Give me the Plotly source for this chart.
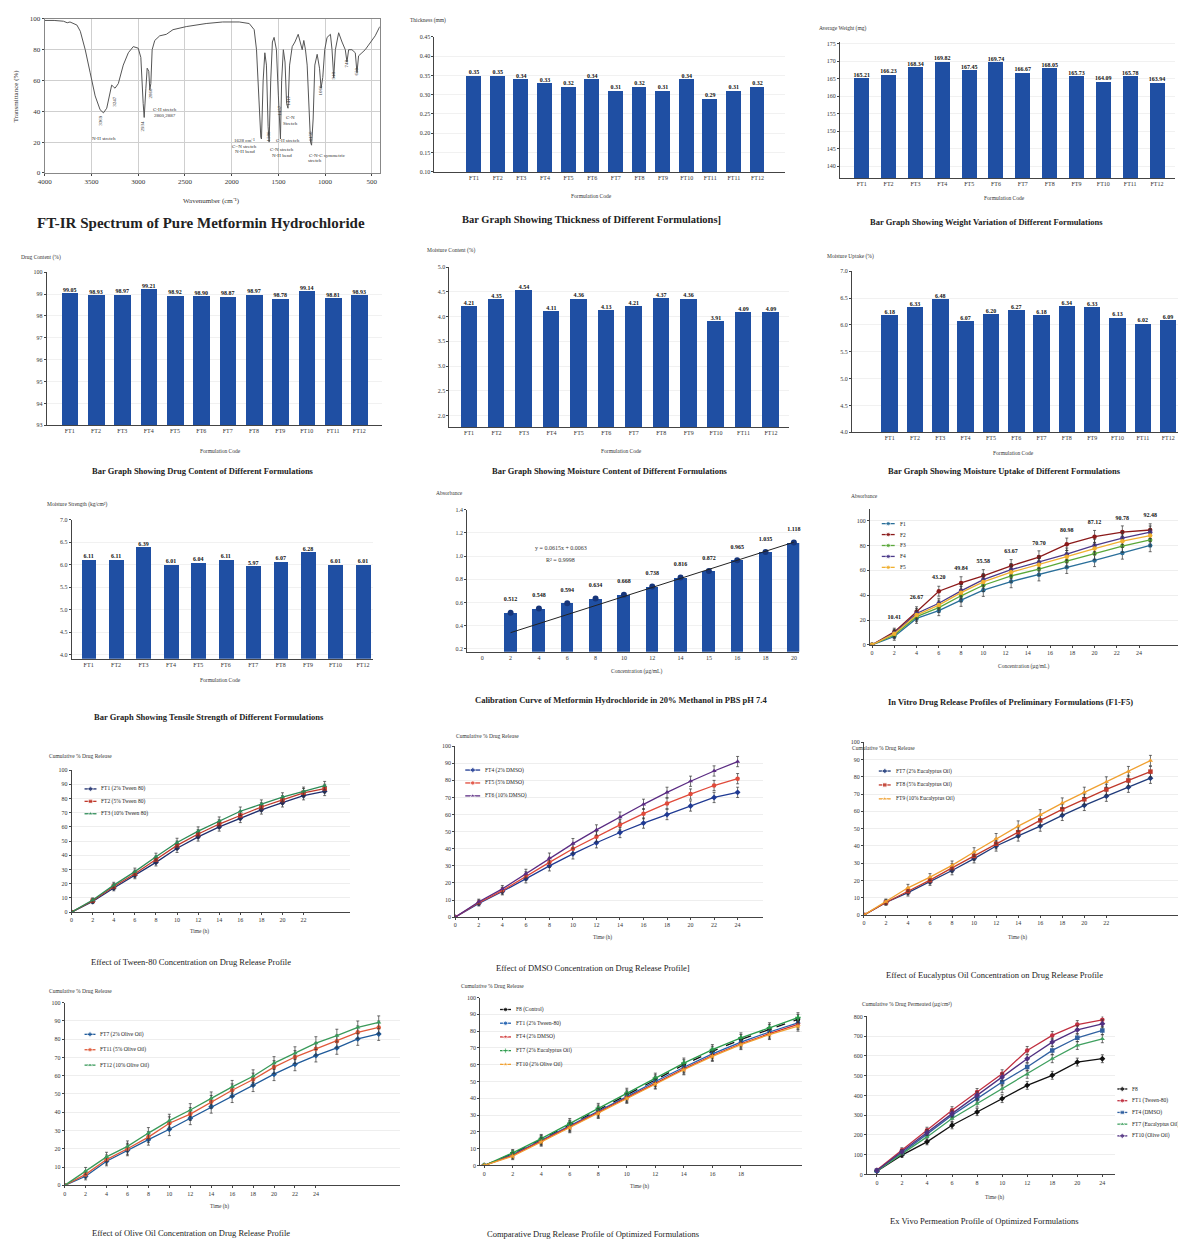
import plotly.graph_objects as go

W, H = 1178, 1245
SERIF = "Liberation Serif"
BAR_BLUE = "#1f4fa3"

# ---------------- data ----------------
ftir_wavenumber = [4000, 3900, 3800, 3760, 3730, 3700, 3656, 3620, 3567, 3514, 3461, 3408, 3372, 3337,
                   3301, 3284, 3266, 3248, 3213, 3160, 3106, 3053, 3000, 2972, 2947, 2936, 2918, 2904,
                   2887, 2876, 2865, 2851, 2823, 2770, 2699, 2628, 2486, 2273, 2096, 1919, 1812, 1759,
                   1734, 1713, 1688, 1681, 1663, 1645, 1628, 1610, 1599, 1582, 1564, 1546, 1521, 1500,
                   1486, 1478, 1465, 1447, 1429, 1412, 1397, 1380, 1352, 1323, 1288, 1263, 1245, 1228,
                   1210, 1192, 1174, 1156, 1145, 1128, 1110, 1085, 1060, 1043, 1025, 1004, 979, 943,
                   926, 908, 890, 855, 819, 784, 766, 748, 713, 677, 659, 642, 606, 571, 535, 500, 464, 415]
ftir_transmittance = [99, 99, 98.5, 97.5, 98, 97, 96, 92, 80, 65, 50, 41, 39, 42,
                      52, 57, 56, 55, 58, 70, 78, 82, 81, 75, 45, 36, 55, 68,
                      66, 54, 58, 80, 86, 89, 90, 93, 95, 97, 98, 98, 97, 93,
                      80, 50, 23, 22, 60, 78, 70, 30, 20, 60, 85, 88, 80, 50,
                      24, 22, 60, 80, 72, 45, 42, 70, 82, 85, 90, 85, 80, 86,
                      80, 70, 40, 20, 18, 35, 70, 77, 68, 55, 62, 80, 88, 90,
                      80, 62, 80, 91, 85, 80, 72, 80, 80, 78, 65, 76, 78, 80, 83, 86, 89, 95]

thickness_codes = ["FT1", "FT2", "FT3", "FT4", "FT5", "FT6", "FT7", "FT8", "FT9", "FT10", "FT11", "FT11", "FT12"]
thickness_mm = [0.35, 0.35, 0.34, 0.33, 0.32, 0.34, 0.31, 0.32, 0.31, 0.34, 0.29, 0.31, 0.32]

codes12 = ["FT1", "FT2", "FT3", "FT4", "FT5", "FT6", "FT7", "FT8", "FT9", "FT10", "FT11", "FT12"]
weight_mg = [165.21, 166.23, 168.34, 169.82, 167.45, 169.74, 166.67, 168.05, 165.73, 164.09, 165.78, 163.94]
drug_content = [99.05, 98.93, 98.97, 99.21, 98.92, 98.90, 98.87, 98.97, 98.78, 99.14, 98.81, 98.93]
moisture_content = [4.21, 4.35, 4.54, 4.11, 4.36, 4.13, 4.21, 4.37, 4.36, 3.91, 4.09, 4.09]
moisture_uptake = [6.18, 6.33, 6.48, 6.07, 6.20, 6.27, 6.18, 6.34, 6.33, 6.13, 6.02, 6.09]

tensile_codes = ["FT1", "FT2", "FT3", "FT4", "FT5", "FT6", "FT7", "FT8", "FT9", "FT10", "FT12"]
tensile_strength = [6.11, 6.11, 6.39, 6.01, 6.04, 6.11, 5.97, 6.07, 6.28, 6.01, 6.01]

calib_conc = ["0", "2", "4", "6", "8", "10", "12", "14", "15", "16", "18", "20"]
calib_abs = [0, 0.512, 0.548, 0.594, 0.634, 0.668, 0.738, 0.816, 0.872, 0.965, 1.035, 1.118]
calib_trend_conc = ["2", "20"]
calib_trend_abs = [0.34, 1.12]

invitro_time = [0, 2, 4, 6, 8, 10, 12.5, 15, 17.5, 20, 22.5, 25]
invitro_f1 = [0, 6.7, 21.3, 27.5, 36, 44, 51, 56.5, 62.5, 68, 74, 80]
invitro_f2 = [0, 10.41, 26.67, 43.20, 49.84, 55.58, 63.67, 70.70, 80.98, 87.12, 90.78, 92.48]
invitro_f3 = [0, 8, 22.7, 30, 39.5, 48, 55.5, 61, 67.5, 73.5, 79.5, 84.5]
invitro_f4 = [0, 9.5, 25.3, 33.5, 43.5, 52.5, 60.5, 66.5, 73, 80, 86, 90.7]
invitro_f5 = [0, 9, 24, 32, 42, 50.7, 58.5, 64.5, 71, 77.5, 83.5, 88]
invitro_sd = [0, 3, 4, 4, 5, 5, 5, 5, 5, 5, 5, 5]

tween_time = [0, 2, 4, 6, 8, 10, 12, 14, 16, 18, 20, 22, 24]
tween_ft1 = [0, 7.5, 17, 26, 35, 45, 53, 60, 66, 72, 77, 82, 85]
tween_ft2 = [0, 8, 18, 27, 37, 47, 55, 62, 68, 74, 79, 84, 87]
tween_ft3 = [0, 8.5, 19, 28.5, 39, 49, 57, 64, 71, 76, 81, 85, 89]
tween_sd = [0, 1.5, 2, 2.5, 2.5, 3, 3, 3, 3, 3, 3, 3, 3]

dmso_time = [0, 2, 4, 6, 8, 10, 12, 14, 16, 18, 20, 22, 24]
dmso_ft4 = [0, 8, 15, 22.5, 30, 37, 43.5, 49.5, 55, 60, 65, 70, 73]
dmso_ft5 = [0, 8.5, 15.5, 24, 32, 40, 47, 54, 60.5, 66.5, 72, 77, 81]
dmso_ft6 = [0, 9, 16.5, 25.5, 34.5, 43, 51, 58.5, 66, 73, 79.5, 85.5, 91]
dmso_sd = [0, 1.5, 2, 2.5, 3, 3, 3, 3, 3, 3, 3, 3, 3]

euca_time = [0, 2, 4, 6, 8, 10, 12, 14, 16, 18, 20, 22, 24, 26]
euca_ft7 = [0, 7.3, 13, 19.2, 25.8, 32.7, 40, 45.8, 51.5, 57.7, 63.5, 68.8, 74, 79.2]
euca_ft8 = [0, 7.3, 13.8, 20.2, 27.3, 34.2, 41.3, 48, 54.8, 61.2, 67, 72.7, 77.9, 83]
euca_ft9 = [0, 7.8, 15.8, 22, 28.8, 36.5, 44.2, 51.5, 58, 64.8, 71, 77, 83, 89.4]
euca_sd = [0, 1.5, 2, 2, 2.5, 2.5, 3, 3, 3, 3, 3, 3, 3, 3]

olive_time = [0, 2, 4, 6, 8, 10, 12, 14, 16, 18, 20, 22, 24, 26, 28, 30]
olive_ft7 = [0, 5, 13.2, 19.2, 25, 30.7, 36.7, 43, 48.8, 54.8, 60.8, 66.2, 71, 75.2, 80.1, 82.8]
olive_ft11 = [0, 6, 14.1, 20, 26.4, 34, 39, 45.7, 52, 57.9, 64.7, 70.2, 74.7, 78.8, 83.7, 86.4]
olive_ft12 = [0, 7.8, 15.6, 21.3, 28.6, 35.4, 41.2, 47.6, 53.9, 59.7, 66.9, 72.3, 77.8, 81.9, 86.4, 89.2]
olive_sd = [0, 2, 2.5, 3, 3, 3.5, 3.5, 3.5, 3.5, 3.5, 3.5, 3.5, 3.5, 3.5, 3.5, 3.5]

comp_time = [0, 2, 4, 6, 8, 10, 12, 14, 16, 18, 20, 22]
comp_f8 = [0, 7, 15.5, 24, 33, 42, 51, 60, 68, 75, 81, 87]
comp_ft1 = [0, 6.5, 15, 23.5, 32, 41, 50, 58.5, 66.5, 73.5, 79.5, 85]
comp_ft4 = [0, 6, 14.5, 23, 31.5, 40.5, 49, 57.5, 65.5, 72.5, 78.5, 84]
comp_ft7 = [0, 7.5, 16, 25, 34, 43, 52, 61, 69, 76, 82, 88]
comp_ft10 = [0, 5.5, 14, 22.5, 31, 40, 48.5, 57, 65, 72, 78, 83]
comp_sd = [0, 2, 2.5, 3, 3, 3, 3, 3, 3, 3, 3, 3]

exvivo_time = ["0", "2", "4", "6", "8", "10", "12", "18", "20", "24"]
exvivo_f8 = [16, 98, 165, 249, 316, 384, 451, 502, 569, 586]
exvivo_ft1 = [22, 123, 224, 325, 417, 510, 628, 704, 759, 783]
exvivo_ft4 = [19, 109, 204, 300, 384, 468, 544, 628, 692, 729]
exvivo_ft7 = [18, 106, 190, 283, 359, 434, 507, 586, 653, 687]
exvivo_ft10 = [20, 114, 212, 308, 401, 493, 586, 670, 732, 763]
exvivo_sd = [0, 12, 15, 18, 18, 20, 20, 20, 20, 20]

# ---------------- helpers ----------------
fig = go.Figure()
lay = {}
ann = []
LEG = 16  # full-page overlay axis (pixel units) used to draw the compact legends


def px(x):
    return x / W


def py(y):
    return 1 - y / H


def note(x, y, text, size=6, bold=False, color="#333", xanchor="center", yanchor="middle", angle=0):
    ann.append(dict(x=px(x), y=py(y), xref="paper", yref="paper", text=text, showarrow=False,
                    font=dict(family=SERIF, size=size, color=color, weight="bold" if bold else "normal"),
                    xanchor=xanchor, yanchor=yanchor, textangle=angle))


def sfx(i):
    return "" if i == 1 else str(i)


def axes(i, box, xr, yr, xkw=None, ykw=None):
    x0, y0, x1, y1 = box
    s = sfx(i)
    base = dict(showline=True, linecolor="#444", linewidth=1, ticks="outside", ticklen=2, tickwidth=0.8,
                tickcolor="#444", tickfont=dict(family=SERIF, size=6, color="#333"),
                showgrid=False, zeroline=False, fixedrange=True)
    lay["xaxis" + s] = {**base, "domain": [px(x0), px(x1)], "range": xr, "anchor": "y" + s, **(xkw or {})}
    lay["yaxis" + s] = {**base, "domain": [py(y1), py(y0)], "range": yr, "anchor": "x" + s, **(ykw or {})}


def value_labels(i, x, y, fmt, lift=0):
    """Value text above each non-zero point; an invisible marker of size `lift` pushes it up."""
    s = sfx(i)
    pts = [(a, b) for a, b in zip(x, y) if b != 0]
    fig.add_trace(go.Scatter(x=[a for a, _ in pts], y=[b for _, b in pts],
                             mode="markers+text" if lift else "text",
                             marker=dict(size=lift, opacity=0) if lift else None,
                             text=[format(b, fmt) for _, b in pts], textposition="top center",
                             textfont=dict(family=SERIF, size=6, color="#111", weight="bold"),
                             xaxis="x" + s, yaxis="y" + s, showlegend=False, cliponaxis=False,
                             hoverinfo="skip"))


def bar_panel(i, codes, values, box, xr, yr, yticks, yfmt, width):
    s = sfx(i)
    idx = list(range(len(codes)))
    fig.add_trace(go.Bar(x=idx, y=values, xaxis="x" + s, yaxis="y" + s, width=width,
                         marker=dict(color=BAR_BLUE, line=dict(width=0)), showlegend=False))
    value_labels(i, idx, values, ".2f")
    axes(i, box, xr, yr,
         xkw=dict(tickvals=idx, ticktext=codes, ticks=""),
         ykw=dict(tickvals=yticks, tickformat=yfmt, showgrid=True, gridcolor="#f1f1f1"))


def line(i, x, y, name, color, symbol, err, dash=None):
    s = sfx(i)
    fig.add_trace(go.Scatter(x=x, y=y, name=name, mode="lines+markers", xaxis="x" + s, yaxis="y" + s,
                             showlegend=False, line=dict(color=color, width=1.3, dash=dash),
                             marker=dict(color=color, size=4.5, symbol=symbol),
                             error_y=dict(type="data", array=err, color="#333", thickness=0.7, width=1.5)))


def legend(x, y0, dy, entries, glyph=14):
    """Compact legend: a short line with a marker, then the series name."""
    for k, (name, color, symbol) in enumerate(entries):
        y = y0 + k * dy
        fig.add_trace(go.Scatter(x=[x, x + glyph / 2, x + glyph], y=[y, y, y], mode="lines+markers",
                                 xaxis="x%d" % LEG, yaxis="y%d" % LEG, showlegend=False, hoverinfo="skip",
                                 line=dict(color=color, width=1.3),
                                 marker=dict(color=color, size=[0, 4.5, 0], symbol=symbol),
                                 cliponaxis=False))
        note(x + glyph + 3, y, name, size=5.5, color="#222", xanchor="left")


# ---------------- 1. FT-IR spectrum ----------------
fig.add_trace(go.Scatter(x=ftir_wavenumber, y=ftir_transmittance, mode="lines", xaxis="x", yaxis="y",
                         line=dict(color="#555", width=1), showlegend=False))
axes(1, (38, 15, 375, 170), [4000, 415], [0, 100],
     xkw=dict(tickvals=[4000, 3500, 3000, 2500, 2000, 1500, 1000, 500], mirror=True, linecolor="#888",
              showgrid=True, gridcolor="#cfcfcf", tickfont=dict(family=SERIF, size=7, color="#333")),
     ykw=dict(tickvals=[0, 20, 40, 60, 80, 100], mirror=True, linecolor="#888", showgrid=True,
              gridcolor="#cfcfcf", tickfont=dict(family=SERIF, size=7, color="#333")))
note(206, 198, "Wavenumber (cm⁻¹)", size=7)
note(9, 92, "Transmittance (%)", size=7, angle=-90)
for x, y, t in [(94, 117, "3369"), (108, 98, "3247"), (136, 123, "2934"), (144, 90, "2860"),
                (263, 133, "1580"), (274, 107, "1457"), (283, 97, "1417"), (305, 133, "1150"),
                (315, 87, "1060"), (328, 72, "918"), (342, 60, "748"), (352, 68, "650")]:
    note(x, y, t, size=5, angle=-90)
for x, y, t in [(98, 135, "N-H stretch"), (159, 106, "C-H stretch"), (159, 113, "2860,2887"),
                (239, 137, "1628 cm⁻¹"), (239, 143, "C=N stretch"), (239, 148, "N-H bend"),
                (277, 146, "C-N stretch"), (277, 152, "N-H bend"), (285, 114, "C-N"), (285, 120, "Stretch"),
                (283, 137, "C-H stretch"), (322, 152, "C-N-C symmetric"), (310, 158, "stretch")]:
    note(x, y, t, size=5)
note(195, 220, "FT-IR Spectrum of Pure Metformin Hydrochloride", size=15, bold=True, color="#222")

# ---------------- 2. Thickness ----------------
bar_panel(2, thickness_codes, thickness_mm, (430, 33, 783, 169), [-1.68, 13.18], [0.10, 0.45],
          [0.10, 0.15, 0.20, 0.25, 0.30, 0.35, 0.40, 0.45], ".2f", 0.63)
note(403, 17, "Thickness (mm)", size=5.5, xanchor="left")
note(588, 193, "Formulation Code", size=5.5)
note(588, 217, "Bar Graph Showing Thickness of Different Formulations]", size=10.5, bold=True, color="#222")

# ---------------- 3. Weight ----------------
bar_panel(3, codes12, weight_mg, (838, 38, 1175, 175), [-0.81, 11.67], [136.6, 175.6],
          [140, 145, 150, 155, 160, 165, 170, 175], "d", 0.56)
note(815, 25, "Average Weight (mg)", size=5.5, xanchor="left")
note(1003, 195, "Formulation Code", size=5.5)
note(985, 219, "Bar Graph Showing Weight Variation of Different Formulations", size=8.5, bold=True, color="#222")

# ---------------- 4. Drug content ----------------
bar_panel(4, codes12, drug_content, (40, 270, 377, 424), [-0.87, 11.85], [93, 100],
          [93, 94, 95, 96, 97, 98, 99, 100], "d", 0.63)
note(12, 255, "Drug Content (%)", size=5.5, xanchor="left")
note(215, 450, "Formulation Code", size=5.5)
note(197, 470, "Bar Graph Showing Drug Content of Different Formulations", size=8.5, bold=True, color="#222")

# ---------------- 5. Moisture content ----------------
bar_panel(5, codes12, moisture_content, (445, 265, 787, 426), [-0.72, 11.67], [1.76, 5.0],
          [2.0, 2.5, 3.0, 3.5, 4.0, 4.5, 5.0], ".1f", 0.6)
note(420, 248, "Moisture Content (%)", size=5.5, xanchor="left")
note(618, 450, "Formulation Code", size=5.5)
note(607, 470, "Bar Graph Showing Moisture Content of Different Formulations", size=8.5, bold=True, color="#222")

# ---------------- 6. Moisture uptake ----------------
bar_panel(6, codes12, moisture_uptake, (850, 269, 1178, 431), [-1.49, 11.39], [4.0, 7.0],
          [4.0, 4.5, 5.0, 5.5, 6.0, 6.5, 7.0], ".1f", 0.65)
note(823, 254, "Moisture Uptake (%)", size=5.5, xanchor="left")
note(1013, 452, "Formulation Code", size=5.5)
note(1003, 470, "Bar Graph Showing Moisture Uptake of Different Formulations", size=8.5, bold=True, color="#222")

# ---------------- 7. Tensile strength ----------------
bar_panel(7, tensile_codes, tensile_strength, (65, 519, 368, 659), [-0.62, 10.36], [3.91, 7.0],
          [4.0, 4.5, 5.0, 5.5, 6.0, 6.5, 7.0], ".1f", 0.54)
note(38, 504, "Moisture Strength (kg/cm²)", size=5.5, xanchor="left")
note(215, 680, "Formulation Code", size=5.5)
note(203, 718, "Bar Graph Showing Tensile Strength of Different Formulations", size=8.5, bold=True, color="#222")

# ---------------- 8. Calibration curve ----------------
calib_idx = list(range(len(calib_conc)))
fig.add_trace(go.Bar(x=calib_idx, y=calib_abs, xaxis="x8", yaxis="y8", width=0.45,
                     marker=dict(color=BAR_BLUE, line=dict(width=0)), showlegend=False))
fig.add_trace(go.Scatter(x=[i for i, v in zip(calib_idx, calib_abs) if v > 0],
                         y=[v for v in calib_abs if v > 0],
                         mode="markers", xaxis="x8", yaxis="y8", showlegend=False,
                         marker=dict(color="#16357a", size=6)))
fig.add_trace(go.Scatter(x=[calib_idx[calib_conc.index(c)] for c in calib_trend_conc], y=calib_trend_abs,
                         mode="lines", xaxis="x8", yaxis="y8", showlegend=False,
                         line=dict(color="#222", width=1)))
value_labels(8, calib_idx, calib_abs, "g", lift=14)
axes(8, (463, 509, 797, 652), [-0.53, 11.19], [0.175, 1.4],
     xkw=dict(tickvals=calib_idx, ticktext=calib_conc, ticks=""),
     ykw=dict(tickvals=[0.2, 0.4, 0.6, 0.8, 1.0, 1.2, 1.4], tickformat=".1f", showgrid=True, gridcolor="#f1f1f1"))
note(430, 492, "Absorbance", size=5.5, xanchor="left")
note(557, 548, "y = 0.0615x + 0.0063", size=6)
note(557, 560, "R² = 0.9998", size=6)
note(633, 672, "Concentration (µg/mL)", size=5.5)
note(618, 700, "Calibration Curve of Metformin Hydrochloride in 20% Methanol in PBS pH 7.4", size=8.5,
     bold=True, color="#222")

# ---------------- 9. In vitro release (F1-F5) ----------------
IV = [("F1", "#2a6f9a", "circle", invitro_f1), ("F2", "#8b1a1a", "circle", invitro_f2),
      ("F3", "#5aa83a", "circle", invitro_f3), ("F4", "#4b3a8a", "circle", invitro_f4),
      ("F5", "#f0b030", "circle", invitro_f5)]
for name, color, sym, vals in IV:
    line(9, invitro_time, vals, name, color, sym, invitro_sd)
value_labels(9, invitro_time, invitro_f2, ".2f", lift=16)
axes(9, (868, 508, 1178, 645), [-0.2, 27.5], [0, 109.6],
     xkw=dict(tickvals=list(range(0, 25, 2))),
     ykw=dict(tickvals=[0, 20, 40, 60, 80, 100], showgrid=True, gridcolor="#eeeeee"))
legend(880, 523, 11, [(n, c, s) for n, c, s, _ in IV], glyph=13)
note(847, 495, "Absorbance", size=5.5, xanchor="left")
note(1023, 667, "Concentration (µg/mL)", size=5.5)
note(1010, 703, "In Vitro Drug Release Profiles of Preliminary Formulations (F1-F5)", size=8.5, bold=True,
     color="#222")

# ---------------- 10. Tween-80 ----------------
TW = [("FT1 (2% Tween 80)", "#1f2f6e", "diamond", tween_ft1), ("FT2 (5% Tween 80)", "#c0392b", "square", tween_ft2),
      ("FT3 (10% Tween 80)", "#2e8b57", "triangle-up", tween_ft3)]
for name, color, sym, vals in TW:
    line(10, tween_time, vals, name, color, sym, tween_sd)
axes(10, (65, 771, 345, 914), [0, 26.4], [0, 100],
     xkw=dict(tickvals=list(range(0, 23, 2))),
     ykw=dict(tickvals=list(range(0, 101, 10)), showgrid=True, gridcolor="#eeeeee"))
legend(78, 790, 12.5, [(n, c, s) for n, c, s, _ in TW], glyph=12)
note(40, 757, "Cumulative % Drug Release", size=5.5, xanchor="left")
note(194, 933, "Time (h)", size=5.5)
note(185, 964, "Effect of Tween-80 Concentration on Drug Release Profile", size=8.5, color="#222")

# ---------------- 11. DMSO ----------------
DM = [("FT4 (2% DMSO)", "#1f3a93", "diamond", dmso_ft4), ("FT5 (5% DMSO)", "#e04a3a", "circle", dmso_ft5),
      ("FT6 (10% DMSO)", "#5b2c83", "triangle-up", dmso_ft6)]
for name, color, sym, vals in DM:
    line(11, dmso_time, vals, name, color, sym, dmso_sd)
axes(11, (451, 747, 761, 919), [0, 26.2], [0, 100],
     xkw=dict(tickvals=list(range(0, 25, 2))),
     ykw=dict(tickvals=list(range(0, 101, 10)), showgrid=True, gridcolor="#eeeeee"))
legend(461, 771, 13, [(n, c, s) for n, c, s, _ in DM], glyph=15)
note(450, 737, "Cumulative % Drug Release", size=5.5, xanchor="left")
note(599, 940, "Time (h)", size=5.5)
note(590, 970, "Effect of DMSO Concentration on Drug Release Profile]", size=8.5, color="#222")

# ---------------- 12. Eucalyptus oil ----------------
EU = [("FT7 (2% Eucalyptus Oil)", "#1f3a7a", "diamond", euca_ft7),
      ("FT8 (5% Eucalyptus Oil)", "#c0392b", "square", euca_ft8),
      ("FT9 (10% Eucalyptus Oil)", "#f0a030", "triangle-up", euca_ft9)]
for name, color, sym, vals in EU:
    line(12, euca_time, vals, name, color, sym, euca_sd)
axes(12, (862, 743, 1178, 917), [0, 28.5], [0, 100],
     xkw=dict(tickvals=list(range(0, 23, 2))),
     ykw=dict(tickvals=list(range(0, 101, 10)), showgrid=True, gridcolor="#eeeeee"))
legend(877, 772, 14, [(n, c, s) for n, c, s, _ in EU], glyph=12)
note(848, 749, "Cumulative % Drug Release", size=5.5, xanchor="left")
note(1017, 940, "Time (h)", size=5.5)
note(993, 977, "Effect of Eucalyptus Oil Concentration on Drug Release Profile", size=8.5, color="#222")

# ---------------- 13. Olive oil ----------------
OL = [("FT7 (2% Olive Oil)", "#1f5a9a", "diamond", olive_ft7), ("FT11 (5% Olive Oil)", "#e05a3a", "circle", olive_ft11),
      ("FT12 (10% Olive Oil)", "#3a9a5a", "triangle-up", olive_ft12)]
for name, color, sym, vals in OL:
    line(13, olive_time, vals, name, color, sym, olive_sd)
axes(13, (58, 1005, 395, 1189), [0, 32], [0, 100],
     xkw=dict(tickvals=list(range(0, 25, 2))),
     ykw=dict(tickvals=list(range(0, 101, 10)), showgrid=True, gridcolor="#eeeeee"))
legend(78, 1037, 15.5, [(n, c, s) for n, c, s, _ in OL], glyph=11)
note(40, 993, "Cumulative % Drug Release", size=5.5, xanchor="left")
note(214, 1210, "Time (h)", size=5.5)
note(185, 1237, "Effect of Olive Oil Concentration on Drug Release Profile", size=8.5, color="#222")

# ---------------- 14. Comparative ----------------
CP = [("F8 (Control)", "#111111", "circle", comp_f8), ("FT1 (2% Tween-80)", "#2060b0", "circle", comp_ft1),
      ("FT4 (2% DMSO)", "#d03030", "star", comp_ft4), ("FT7 (2% Eucalyptus Oil)", "#2a9a4a", "cross", comp_ft7),
      ("FT10 (2% Olive Oil)", "#f0a030", "star", comp_ft10)]
for name, color, sym, vals in CP:
    line(14, comp_time, vals, name, color, sym, comp_sd, dash="dash" if name.startswith("F8") else None)
axes(14, (476, 1000, 800, 1169), [-0.28, 22.3], [0, 100],
     xkw=dict(tickvals=list(range(0, 19, 2))),
     ykw=dict(tickvals=list(range(0, 101, 10)), showgrid=True, gridcolor="#eeeeee"))
legend(496, 1012, 13.8, [(n, c, s) for n, c, s, _ in CP], glyph=11)
note(455, 988, "Cumulative % Drug Release", size=5.5, xanchor="left")
note(636, 1190, "Time (h)", size=5.5)
note(590, 1238, "Comparative Drug Release Profile of Optimized Formulations", size=8.5, color="#222")

# ---------------- 15. Ex vivo permeation ----------------
ev_idx = list(range(len(exvivo_time)))
EV = [("F8", "#111111", "diamond", exvivo_f8), ("FT1 (Tween-80)", "#c03040", "circle", exvivo_ft1),
      ("FT4 (DMSO)", "#3060a0", "square", exvivo_ft4), ("FT7 (Eucalyptus Oil)", "#40a060", "triangle-up", exvivo_ft7),
      ("FT10 (Olive Oil)", "#503080", "diamond", exvivo_ft10)]
for name, color, sym, vals in EV:
    line(15, ev_idx, vals, name, color, sym, exvivo_sd)
axes(15, (865, 1019, 1115, 1178), [-0.4, 9.52], [0, 800],
     xkw=dict(tickvals=ev_idx, ticktext=exvivo_time),
     ykw=dict(tickvals=list(range(0, 801, 100)), showgrid=True, gridcolor="#eeeeee"))
legend(1117, 1092, 11.8, [(n, c, s) for n, c, s, _ in EV], glyph=10)
note(858, 1007, "Cumulative % Drug Permeated (µg/cm²)", size=5.5, xanchor="left")
note(993, 1201, "Time (h)", size=5.5)
note(983, 1225, "Ex Vivo Permeation Profile of Optimized Formulations", size=8.5, color="#222")

# pixel-unit overlay used by the compact legends
lay["xaxis%d" % LEG] = dict(domain=[0, 1], range=[0, W], visible=False, fixedrange=True, anchor="y%d" % LEG)
lay["yaxis%d" % LEG] = dict(domain=[0, 1], range=[H, 0], visible=False, fixedrange=True, anchor="x%d" % LEG)

fig.update_layout(width=W, height=H, margin=dict(l=0, r=0, t=0, b=0), paper_bgcolor="white",
                  plot_bgcolor="rgba(0,0,0,0)", annotations=ann, showlegend=False, bargap=0, **lay)
fig.write_html("out.html")
